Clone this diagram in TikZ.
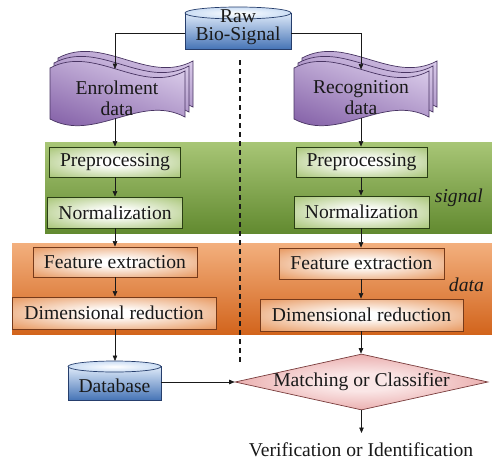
\documentclass[tikz,border=0pt]{standalone}
\usepackage{fontspec}
\setmainfont{Liberation Serif}
\usetikzlibrary{shapes.geometric,arrows.meta}
\definecolor{gbandtop}{RGB}{168,198,118}
\definecolor{gbandbot}{RGB}{98,138,48}
\definecolor{obandtop}{RGB}{243,176,126}
\definecolor{obandbot}{RGB}{210,100,28}
\definecolor{gboxc}{RGB}{148,184,88}
\definecolor{gborder}{RGB}{42,62,20}
\definecolor{oboxc}{RGB}{226,128,58}
\definecolor{oborder}{RGB}{118,58,26}
\definecolor{dmout}{RGB}{212,96,96}
\definecolor{dmin}{RGB}{250,230,230}
\definecolor{dmborder}{RGB}{120,60,60}
\definecolor{doclight}{RGB}{226,214,240}
\definecolor{docdark}{RGB}{130,94,166}
\definecolor{docborder}{RGB}{72,52,98}
\definecolor{cyllight}{RGB}{222,234,249}
\definecolor{cyldark}{RGB}{70,116,182}
\definecolor{cyltopc}{RGB}{160,192,232}
\definecolor{cylborder}{RGB}{38,62,108}
\definecolor{txt}{RGB}{25,25,25}
\pgfdeclareradialshading{gshade}{\pgfpoint{0bp}{0bp}}{color(0bp)=(white); color(6bp)=(white); color(42bp)=(gboxc); color(75bp)=(gboxc)}
\pgfdeclareradialshading{oshade}{\pgfpoint{0bp}{0bp}}{color(0bp)=(white); color(6bp)=(white); color(42bp)=(oboxc); color(75bp)=(oboxc)}
\pgfdeclareradialshading{dshade}{\pgfpoint{0bp}{0bp}}{color(0bp)=(dmin); color(8bp)=(dmin); color(50bp)=(dmout); color(75bp)=(dmout)}
\pgfdeclareradialshading{ctshade}{\pgfpoint{0bp}{0bp}}{color(0bp)=(white); color(15bp)=(cyllight); color(50bp)=(cyltopc); color(75bp)=(cyltopc)}
\newcommand\txtfont{\fontsize{19.6}{18}\selectfont}
\newcommand\wavepg[2]{%
  \path[docpage] (#1,#2) .. controls +(45,-24) and +(-45,24) .. ++(135,3)
    -- ++(0,46) .. controls +(-45,-24) and +(45,24) .. ++(-135,2) -- cycle;}
\tikzset{
  arr/.style={-{Triangle[length=5.5pt,width=4.5pt]}, line width=0.6pt, draw=txt},
  gbox/.style={draw=gborder, line width=0.8pt, shading=gshade, minimum height=30pt,
    inner sep=0pt},
  obox/.style={draw=oborder, line width=0.8pt, shading=oshade, minimum height=31pt,
    inner sep=0pt},
  docpage/.style={draw=docborder, line width=0.7pt, top color=doclight,
    bottom color=docdark, shading angle=-20},
  cylbody/.style={draw=cylborder, line width=0.7pt, top color=cyllight, bottom color=cyldark},
  cyltop/.style={draw=cylborder, line width=0.7pt, shading=ctshade},
  lbl/.style={font=\txtfont, text=txt, align=center, inner sep=0pt},
  bandlbl/.style={font=\txtfont\itshape, text=txt, anchor=east, inner sep=0pt},
  dashline/.style={line width=1.1pt, dash pattern=on 5pt off 4pt, draw=txt}
}
\begin{document}
\begin{tikzpicture}[x=1pt,y=-1pt]
\useasboundingbox (0,0) rectangle (492,460);
% ---------- shaded shapes ----------
\path[top color=gbandtop, bottom color=gbandbot] (45,142) rectangle (492,233);
\path[top color=obandtop, bottom color=obandbot] (12,243) rectangle (492,334);
% raw bio-signal cylinder
\path[cylbody] (185,13) rectangle (291,49);
\path[cyltop] (238,13) ellipse [x radius=53, y radius=6];
% enrolment / recognition documents
\wavepg{58}{58}\wavepg{54}{63}\wavepg{50}{68}
\wavepg{302}{58}\wavepg{298}{63}\wavepg{294}{68}
% boxes
\node[gbox, minimum width=131pt] (pre1) at (115,162) {};
\node[gbox, minimum width=135pt, minimum height=31pt] (norm1) at (115,212.5) {};
\node[obox, minimum width=164pt, minimum height=30pt] (fe1) at (115,262) {};
\node[obox, minimum width=204pt, minimum height=32pt] (dr1) at (114,313) {};
\node[gbox, minimum width=131pt] (pre2) at (361.5,162) {};
\node[gbox, minimum width=135pt, minimum height=32pt] (norm2) at (361.5,212) {};
\node[obox, minimum width=165pt] (fe2) at (361.5,263.5) {};
\node[obox, minimum width=203pt, minimum height=32pt] (dr2) at (361.5,315) {};
% database
\path[cylbody] (68,366.5) rectangle (161,400);
\path[cyltop] (114.5,366.5) ellipse [x radius=46.5, y radius=5.5];
% matcher
\node[shape=diamond, inner sep=0pt, minimum width=253pt, minimum height=56pt,
  draw=dmborder, line width=0.7pt, shading=dshade] (match) at (361.5,382) {};
% ---------- texts ----------
\node[bandlbl] (sig) at (483,198) {signal};
\node[bandlbl] (dat) at (484,285) {data};
\node[lbl] (raw) at (238,27.5) {Raw\\Bio-Signal};
\node[lbl] (enrol) at (117,98) {Enrolment\\[3pt]data};
\node[lbl] (recog) at (361,98) {Recognition\\[3pt]data};
\node[lbl] (pre1t) at (pre1) {Preprocessing};
\node[lbl] (norm1t) at (norm1) {Normalization};
\node[lbl] (fe1t) at (fe1) {Feature extraction};
\node[lbl] (dr1t) at (dr1) {Dimensional reduction};
\node[lbl] (pre2t) at (pre2) {Preprocessing};
\node[lbl] (norm2t) at (norm2) {Normalization};
\node[lbl] (fe2t) at (fe2) {Feature extraction};
\node[lbl] (dr2t) at (dr2) {Dimensional reduction};
\node[lbl] (db) at (114.5,386) {Database};
\node[lbl] (matcht) at (match) {Matching or Classifier};
\node[lbl] (result) at (361,449.5) {Verification or Identification};
% ---------- connectors ----------
\coordinate (dtop) at (240,60);
\coordinate (dbot) at (240,365);
\draw[dashline] (dtop) -- (dbot);
\coordinate (rawL) at (185,33);
\coordinate (rawR) at (291,33);
\coordinate (enrolin) at (115,69);
\coordinate (enrolout) at (115,118);
\coordinate (recogin) at (361,69.5);
\coordinate (recogout) at (361,118);
\coordinate (dbtop) at (115,361);
\coordinate (dbR) at (161,382);
\coordinate (resin) at (361.5,433);
\draw[arr] (rawL) -| (enrolin);
\draw[arr] (rawR) -| (recogin);
\draw[arr] (enrolout) -- (pre1.north);
\draw[arr] (pre1.south) -- (norm1.north);
\draw[arr] (norm1.south) -- (fe1.north);
\draw[arr] (fe1.south) -- (fe1.south |- dr1.north);
\draw[arr] (dr1.south -| dbtop) -- (dbtop);
\draw[arr] (recogout) -- (recogout |- pre2.north);
\draw[arr] (pre2.south -| recogout) -- (recogout |- norm2.north);
\draw[arr] (norm2.south -| recogout) -- (recogout |- fe2.north);
\draw[arr] (fe2.south -| recogout) -- (recogout |- dr2.north);
\draw[arr] (dr2.south -| recogout) -- (recogout |- match.north);
\draw[arr] (dbR) -- (match.west);
\draw[arr] (match.south) -- (resin);
\end{tikzpicture}
\end{document}
